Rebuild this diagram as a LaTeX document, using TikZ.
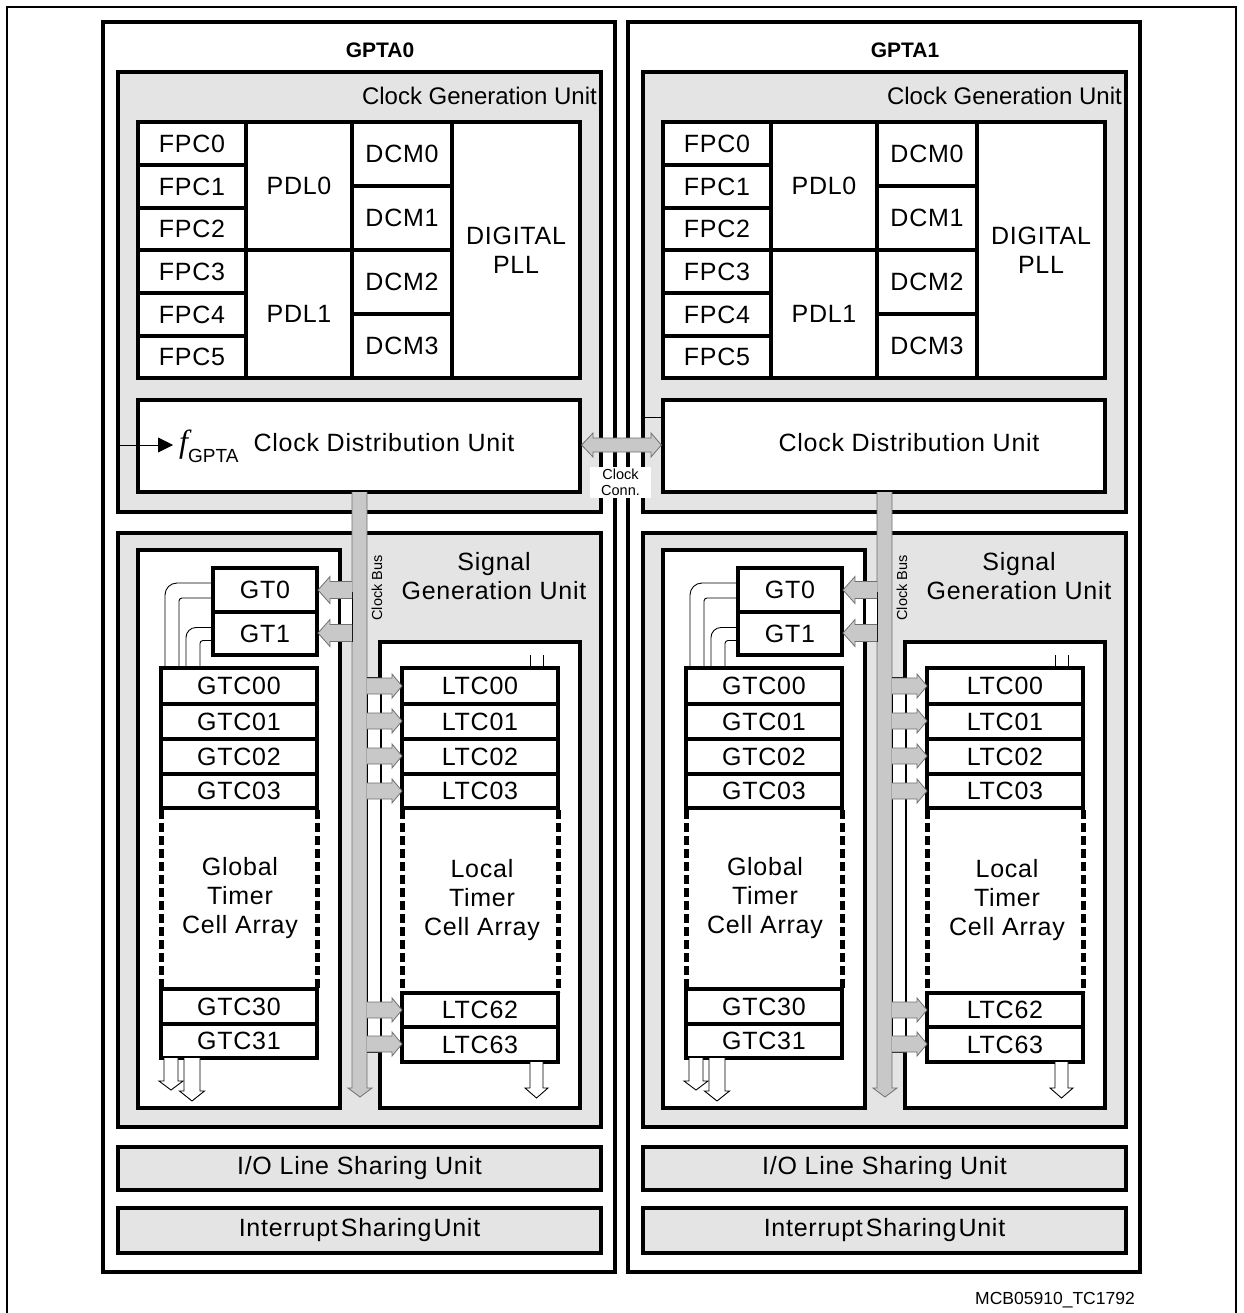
\documentclass[tikz,border=0pt]{standalone}
\usepackage{fontspec}
\setmainfont{Liberation Sans}
\newfontfamily\serifit{Liberation Serif}
\usetikzlibrary{arrows.meta}
\definecolor{lg}{HTML}{E4E4E4}
\definecolor{bg}{HTML}{C8C8C8}
\definecolor{ol}{HTML}{707070}
\newcommand\lbl{\fontsize{25}{29}\selectfont\addfontfeature{LetterSpace=3}}
\newcommand\rbox[7]{\node[#1,minimum width={(#5-#3)*1pt},minimum height={(#6-#4)*1pt}] (#2) at ({(#3+#5)/2},{(#4+#6)/2}) {#7};}
\newcommand\rarr[5]{\filldraw[barrow] (#1,#3-#4) -- (#2-10,#3-#4) -- (#2-10,#3-#5) -- (#2,#3) -- (#2-10,#3+#5) -- (#2-10,#3+#4) -- (#1,#3+#4);}
\newcommand\larr[5]{\filldraw[barrow] (#1,#3-#4) -- (#2+12,#3-#4) -- (#2+12,#3-#5) -- (#2,#3) -- (#2+12,#3+#5) -- (#2+12,#3+#4) -- (#1,#3+#4);}
\newcommand\darr[6]{\filldraw[warrow] (#1-#4,#2) -- (#1-#4,#3-#6) -- (#1-#5,#3-#6) -- (#1,#3) -- (#1+#5,#3-#6) -- (#1+#4,#3-#6) -- (#1+#4,#2);}
\tikzset{
 frame/.style={draw=black,line width=3.5pt,fill=white,inner sep=0pt},
 graybox/.style={draw=black,line width=3.2pt,fill=lg,inner sep=0pt,font=\lbl,align=center},
 cell/.style={draw=black,line width=3.2pt,fill=white,inner sep=0pt,font=\lbl,align=center},
 lbl/.style={inner sep=0pt,font=\lbl,align=center},
 barrow/.style={fill=bg,draw=ol,line width=0.8pt},
 warrow/.style={fill=white,draw=black,line width=0.9pt},
 wire/.style={draw=black,line width=0.9pt},
 dashline/.style={line width=5pt,dash pattern=on 9pt off 4pt},
}
\newcommand\gpta[3]{%
\begin{scope}[shift={(#3,0)}]
\rbox{frame}{#1frame}{103}{22}{615}{1272}{}
\node[inner sep=0pt,font=\bfseries\fontsize{21}{23}\selectfont] (#1title) at (380,50) {#2};
% clock generation unit
\rbox{graybox}{#1cgu}{118}{72}{601}{512}{}
\node[inner sep=0pt,anchor=east,font=\fontsize{24}{27}\selectfont] (#1cgul) at (597,96) {Clock Generation Unit};
\rbox{cell}{#1fpc0}{138}{122}{246}{165}{FPC0}
\rbox{cell}{#1fpc1}{138}{165}{246}{208}{FPC1}
\rbox{cell}{#1fpc2}{138}{208}{246}{250}{FPC2}
\rbox{cell}{#1fpc3}{138}{250}{246}{293}{FPC3}
\rbox{cell}{#1fpc4}{138}{293}{246}{336}{FPC4}
\rbox{cell}{#1fpc5}{138}{336}{246}{378}{FPC5}
\rbox{cell}{#1pdl0}{246}{122}{352}{250}{PDL0}
\rbox{cell}{#1pdl1}{246}{250}{352}{378}{PDL1}
\rbox{cell}{#1dcm0}{352}{122}{452}{186}{DCM0}
\rbox{cell}{#1dcm1}{352}{186}{452}{250}{DCM1}
\rbox{cell}{#1dcm2}{352}{250}{452}{314}{DCM2}
\rbox{cell}{#1dcm3}{352}{314}{452}{378}{DCM3}
\rbox{cell}{#1pll}{452}{122}{580}{378}{DIGITAL\\PLL}
\rbox{cell}{#1cdu}{138}{400}{580}{492}{}
\node[lbl] (#1cdul) at (384,443) {Clock Distribution Unit};
% signal generation unit
\rbox{graybox}{#1sgu}{118}{533}{601}{1127}{}
\rbox{cell}{#1gbox}{138}{550}{340}{1108}{}
\rbox{cell}{#1lbox}{380}{642}{580}{1108}{}
\node[lbl] (#1sgul) at (494,576) {Signal\\Generation Unit};
\rbox{cell}{#1gt0}{213}{568}{317}{612}{GT0}
\rbox{cell}{#1gt1}{213}{612}{317}{655}{GT1}
\rbox{cell}{#1gtc00}{161}{668}{317}{704}{GTC00}
\rbox{cell}{#1gtc01}{161}{704}{317}{739}{GTC01}
\rbox{cell}{#1gtc02}{161}{739}{317}{774}{GTC02}
\rbox{cell}{#1gtc03}{161}{774}{317}{808}{GTC03}
\rbox{cell}{#1gtc30}{161}{989}{317}{1024}{GTC30}
\rbox{cell}{#1gtc31}{161}{1024}{317}{1058}{GTC31}
\draw[dashline] (161,810) -- (161,988);
\draw[dashline] (317,810) -- (317,988);
\node[lbl] (#1gtca) at (240,898) {Global\\Timer\\Cell Array};
\draw[wire,rounded corners=12pt] ([yshift=7pt]#1gt0.west) -| (165,0 |- #1gtc00.north);
\draw[wire,rounded corners=3pt] ([yshift=-8pt]#1gt0.west) -| (179,0 |- #1gtc00.north);
\draw[wire,rounded corners=10pt] ([yshift=6pt]#1gt1.west) -| (186,0 |- #1gtc00.north);
\draw[wire,rounded corners=3pt] ([yshift=-7pt]#1gt1.west) -| (200,0 |- #1gtc00.north);
\rbox{cell}{#1ltc00}{402}{668}{558}{704}{LTC00}
\rbox{cell}{#1ltc01}{402}{704}{558}{739}{LTC01}
\rbox{cell}{#1ltc02}{402}{739}{558}{774}{LTC02}
\rbox{cell}{#1ltc03}{402}{774}{558}{808}{LTC03}
\rbox{cell}{#1ltc62}{402}{993}{558}{1027}{LTC62}
\rbox{cell}{#1ltc63}{402}{1027}{558}{1062}{LTC63}
\draw[dashline] (402,810) -- (402,992);
\draw[dashline] (558,810) -- (558,992);
\node[lbl] (#1ltca) at (482,900) {Local\\Timer\\Cell Array};
\draw[wire] (530,655) -- (530,0 |- #1ltc00.north);
\draw[wire] (543,655) -- (543,0 |- #1ltc00.north);
% clock bus
\filldraw[barrow] (352,492) -- (352,1088) -- (348,1088) -- (360,1097) -- (372,1088) -- (367,1088) -- (367,492);
\node[rotate=90,inner sep=0pt,font=\fontsize{14.5}{16}\selectfont] (#1cbl) at (377,588) {Clock Bus};
\filldraw[fill=white,draw=black,line width=0.8pt] (352,592) -- (340,592) -- (340,641) -- (352,641) -- cycle;
\larr{352}{318}{590}{8.5}{13.5}
\larr{352}{318}{633}{8.5}{13.5}
\filldraw[fill=white,draw=black,line width=0.8pt] (367,677) -- (380,677) -- (380,1052) -- (367,1052) -- cycle;
\rarr{367}{402}{686}{8}{12}
\rarr{367}{402}{721}{8}{12}
\rarr{367}{402}{756}{8}{12}
\rarr{367}{402}{791}{8}{12}
\rarr{367}{402}{1010}{8}{12}
\rarr{367}{402}{1044}{8}{12}
% outputs
\darr{171}{1058}{1090}{7}{12}{9}
\darr{192}{1058}{1101}{8}{12.5}{10}
\darr{536.5}{1062}{1098}{6.5}{11.5}{10}
% sharing units
\rbox{graybox}{#1io}{118}{1147}{601}{1190}{I/O Line Sharing Unit}
\rbox{graybox}{#1irq}{118}{1208}{601}{1253}{Interrupt\hspace{3pt}Sharing\hspace{2pt}Unit}
\end{scope}}

\begin{document}
\begin{tikzpicture}[x=1pt,y=-1pt]
\useasboundingbox (0,0) rectangle (1243,1313);
\fill[white] (0,0) rectangle (1243,1313);
\draw[line width=1.2pt] (7,1313) -- (7,7) -- (1236,7) -- (1236,1313);
\gpta{a}{GPTA0}{0}
\gpta{b}{GPTA1}{525}
% f_GPTA input
\coordinate (fin) at (118,445);
\draw[line width=0.9pt,-{Triangle[length=15pt,width=15pt]}] (fin) -- (173,445);
\node[anchor=base west,inner sep=0pt] (fg) at (179,452) {{\fontsize{32}{32}\selectfont\serifit\itshape f}\raisebox{-10pt}{\fontsize{19}{19}\selectfont GPTA}};
% GPTA1 input line
\coordinate (bin) at (643,417);
\draw[wire] (bin) -- (bcdu.west |- bin);
% clock connection
\filldraw[barrow] (acdu.east |- 0,445) -- (593,433) -- (593,438) -- (651,438) -- (651,433) -- (bcdu.west |- 0,445) -- (651,457) -- (651,452) -- (593,452) -- (593,457) -- cycle;
\node[fill=white,inner sep=0pt,minimum width=61pt,minimum height=31pt,align=center,font=\fontsize{14.5}{16}\selectfont] (cconn) at (620.5,482.5) {Clock\\Conn.};
\node[inner sep=0pt,font=\fontsize{17.5}{20}\selectfont] (ref) at (1055,1300) {MCB05910\_TC1792};
\end{tikzpicture}
\end{document}
